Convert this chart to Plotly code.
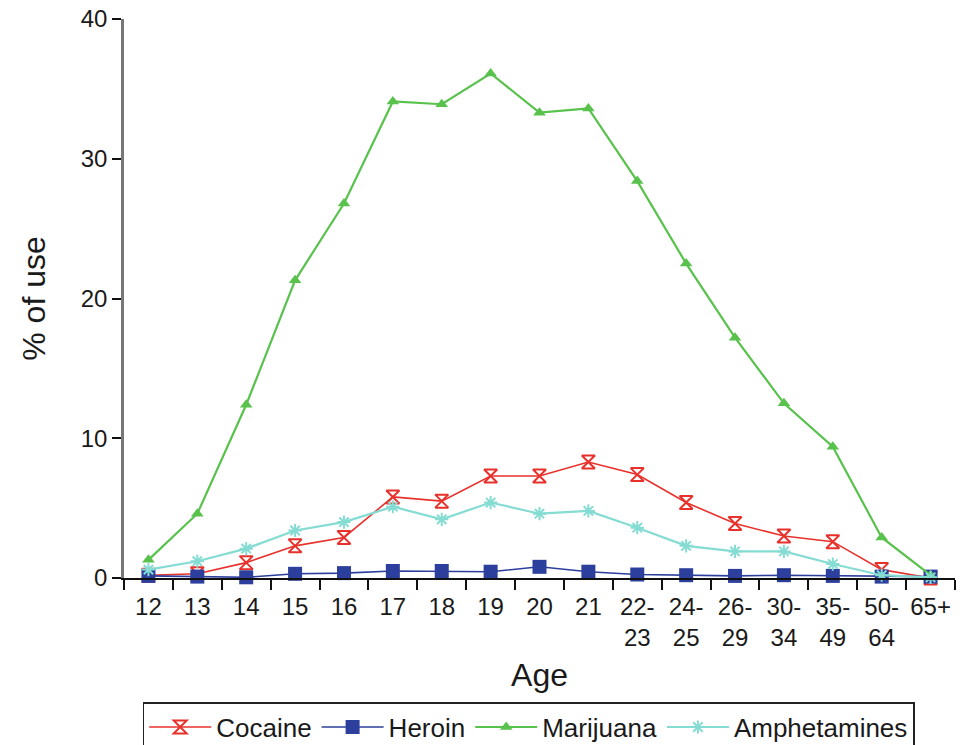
import plotly.graph_objects as go

# Age groups (x axis) and percentage of use for each substance
ages = ["12", "13", "14", "15", "16", "17", "18", "19", "20", "21",
        "22-<br>23", "24-<br>25", "26-<br>29", "30-<br>34", "35-<br>49",
        "50-<br>64", "65+"]

cocaine = [0.2, 0.3, 1.1, 2.3, 2.9, 5.8, 5.5, 7.3, 7.3, 8.3,
           7.4, 5.4, 3.9, 3.0, 2.6, 0.6, 0.0]
heroin = [0.15, 0.1, 0.05, 0.3, 0.35, 0.5, 0.5, 0.45, 0.8, 0.45,
          0.25, 0.2, 0.15, 0.2, 0.15, 0.1, 0.1]
marijuana = [1.3, 4.6, 12.4, 21.3, 26.8, 34.1, 33.9, 36.1, 33.3, 33.6,
             28.4, 22.5, 17.2, 12.5, 9.4, 2.9, 0.2]
amphetamines = [0.6, 1.2, 2.1, 3.4, 4.0, 5.1, 4.2, 5.4, 4.6, 4.8,
                3.6, 2.3, 1.9, 1.9, 1.0, 0.2, 0.05]

FONT = "Liberation Sans, Arial, sans-serif"

fig = go.Figure()

fig.add_trace(go.Scatter(
    x=ages, y=cocaine, name="Cocaine", mode="lines+markers",
    line=dict(color="#e8312b", width=1.6),
    marker=dict(symbol="hourglass-open", size=13, color="#e8312b",
                line=dict(width=2, color="#e8312b")),
    cliponaxis=False,
))
fig.add_trace(go.Scatter(
    x=ages, y=heroin, name="Heroin", mode="lines+markers",
    line=dict(color="#2c3f9c", width=1.6),
    marker=dict(symbol="square", size=14, color="#2c3f9c"),
    cliponaxis=False,
))
fig.add_trace(go.Scatter(
    x=ages, y=marijuana, name="Marijuana", mode="lines+markers",
    line=dict(color="#58c24c", width=2.2),
    marker=dict(symbol="triangle-up", size=11, color="#58c24c"),
    cliponaxis=False,
))
fig.add_trace(go.Scatter(
    x=ages, y=amphetamines, name="Amphetamines", mode="lines+markers",
    line=dict(color="#84dcd3", width=2.2),
    marker=dict(symbol="asterisk-open", size=11, color="#84dcd3",
                line=dict(width=2, color="#84dcd3")),
    cliponaxis=False,
))

fig.update_layout(
    width=975, height=745,
    margin=dict(l=124, r=20, t=19, b=167, autoexpand=False),
    paper_bgcolor="white", plot_bgcolor="white",
    font=dict(family=FONT, size=24, color="#1a1a1a"),
    showlegend=True,
    legend=dict(
        orientation="h", x=0.487, xanchor="center", y=-0.222, yanchor="top",
        bordercolor="#222", borderwidth=1.5, font=dict(size=26),
        itemwidth=62, tracegroupgap=0,
    ),
)

fig.update_xaxes(
    type="category", range=[-0.5, 16.5], tickson="boundaries",
    tickangle=0, ticklabelstandoff=6,
    showline=True, linecolor="#111", linewidth=2,
    ticks="outside", ticklen=10, tickwidth=2, tickcolor="#111",
    showgrid=False, zeroline=False, automargin=False,
    tickfont=dict(size=24),
    title=dict(text="Age", font=dict(size=32), standoff=14),
)
fig.update_yaxes(
    range=[0, 40], tickvals=[0, 10, 20, 30, 40],
    showline=True, linecolor="#777", linewidth=2.5,
    ticks="outside", ticklen=9, tickwidth=2, tickcolor="#111",
    showgrid=False, zeroline=False, automargin=False,
    tickfont=dict(size=24),
    title=dict(text="% of use", font=dict(size=32), standoff=26),
)

fig.write_html("out.html")
